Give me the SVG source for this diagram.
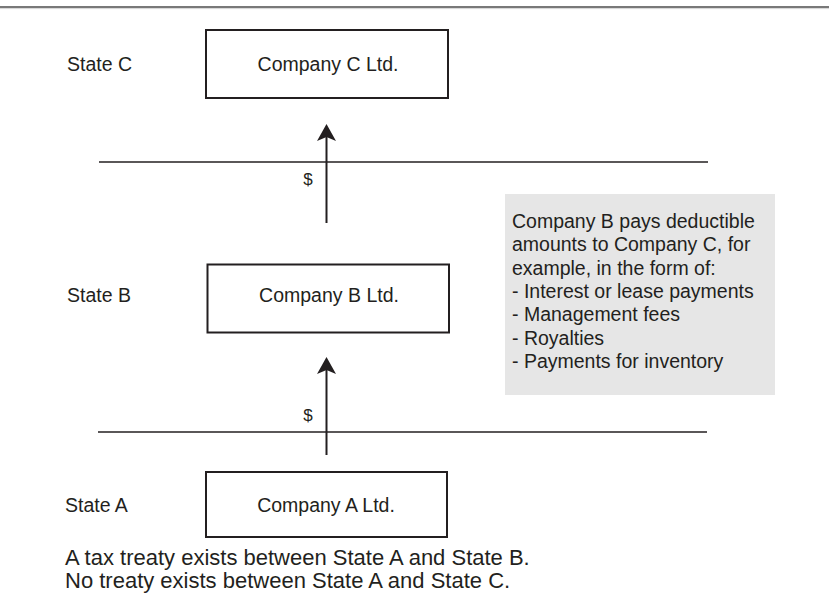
<svg xmlns="http://www.w3.org/2000/svg" width="829" height="614" viewBox="0 0 829 614">
<style>
text{font-family:"Liberation Sans",Arial,sans-serif;font-size:19.5px;fill:#231f20}
.mid{text-anchor:middle}
.foot{font-size:22px}
.box{fill:#fff;stroke:#231f20;stroke-width:2}
.border{stroke:#231f20;stroke-width:1.3;fill:none}
.flow{stroke:#231f20;stroke-width:2;fill:none}
</style>
<defs>
<marker id="ah" markerUnits="userSpaceOnUse" markerWidth="24" markerHeight="24" viewBox="-10 -12 24 24" refX="0" refY="0" orient="auto">
<path d="M11,0 L-6,-9.5 L-2,0 L-6,9.5 Z" fill="#231f20"/>
</marker>
</defs>
<rect x="0" y="0" width="829" height="614" fill="#fff"/>
<line x1="0" y1="7" x2="829" y2="7" stroke="#4d4d4d" stroke-width="1.6"/>
<line x1="0" y1="8.6" x2="829" y2="8.6" stroke="#c8c8c8" stroke-width="0.8"/>

<g id="borders">
<line class="border" x1="99" y1="162" x2="708" y2="162"/>
<line class="border" x1="98" y1="432" x2="707" y2="432"/>
</g>

<g id="stateC">
<text x="67" y="71">State C</text>
</g>
<g id="stateB">
<text x="67" y="302">State B</text>
</g>
<g id="stateA">
<text x="65" y="512">State A</text>
</g>

<g id="companyC">
<rect class="box" x="206" y="30" width="242" height="68"/>
<text class="mid" x="328" y="71">Company C Ltd.</text>
</g>
<g id="companyB">
<rect class="box" x="207.5" y="264.5" width="241.5" height="68"/>
<text class="mid" x="329" y="302">Company B Ltd.</text>
</g>
<g id="companyA">
<rect class="box" x="206" y="472" width="241" height="65"/>
<text class="mid" x="326" y="512">Company A Ltd.</text>
</g>

<g id="connectors">
<line class="flow" x1="326.5" y1="223" x2="326.5" y2="135" marker-end="url(#ah)"/>
<text class="mid" x="308" y="185" style="font-size:17px">$</text>
<line class="flow" x1="326.5" y1="455" x2="326.5" y2="368" marker-end="url(#ah)"/>
<text class="mid" x="308" y="421" style="font-size:17px">$</text>
</g>

<g id="note">
<rect x="505" y="194" width="270" height="201" fill="#e6e6e6"/>
<text x="512" y="228">Company B pays deductible</text>
<text x="512" y="251.3">amounts to Company C, for</text>
<text x="512" y="274.7">example, in the form of:</text>
<text x="512" y="298">- Interest or lease payments</text>
<text x="512" y="321.3">- Management fees</text>
<text x="512" y="344.7">- Royalties</text>
<text x="512" y="368">- Payments for inventory</text>
</g>

<g id="footer">
<text class="foot" x="65" y="565">A tax treaty exists between State A and State B.</text>
<text class="foot" x="65" y="588">No treaty exists between State A and State C.</text>
</g>
</svg>
